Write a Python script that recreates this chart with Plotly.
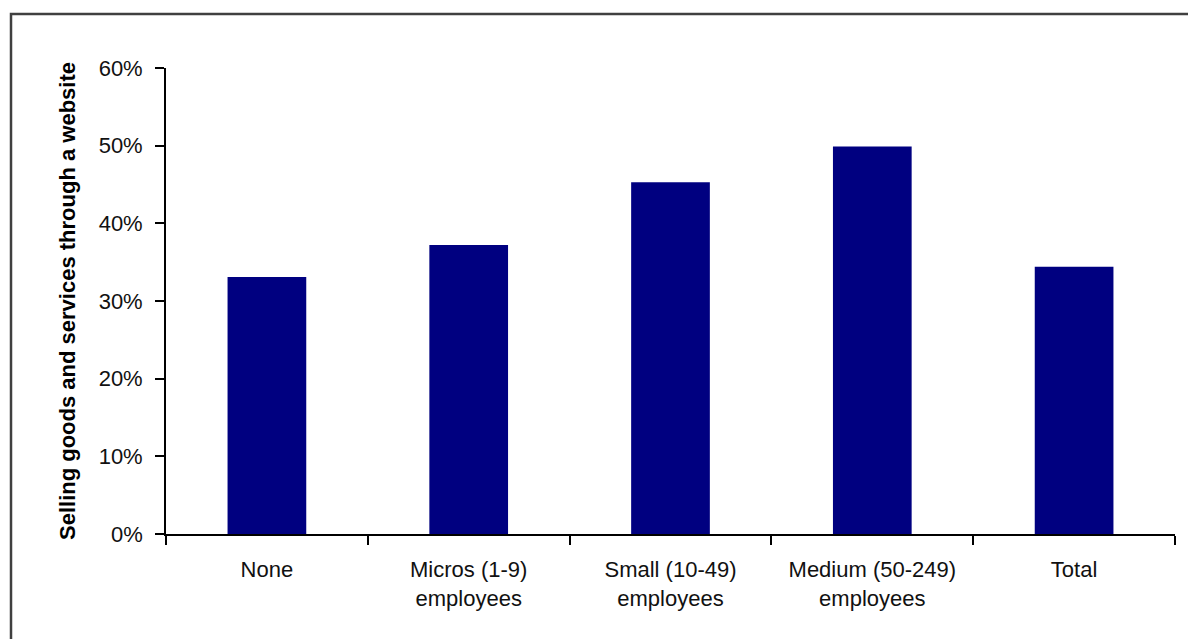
import plotly.graph_objects as go

# Share of firms selling goods and services through a website, by firm size
categories = [
    "None",
    "Micros (1-9)<br>employees",
    "Small (10-49)<br>employees",
    "Medium (50-249)<br>employees",
    "Total",
]
share_selling_online = [0.331, 0.372, 0.453, 0.499, 0.344]

y_tick_values = [0.0, 0.1, 0.2, 0.3, 0.4, 0.5, 0.6]
y_tick_labels = ["0%", "10%", "20%", "30%", "40%", "50%", "60%"]
y_title = "Selling goods and services through a website"

W, H = 1188, 639
ML, MR, MT, MB = 166, 13, 68, 105
plot_w = W - ML - MR
plot_h = H - MT - MB

FONT = "Liberation Sans, Arial, sans-serif"

fig = go.Figure(
    go.Bar(
        x=categories,
        y=share_selling_online,
        marker=dict(color="#000080", line=dict(width=0)),
        width=0.39,
        hoverinfo="skip",
    )
)

fig.update_layout(
    width=W,
    height=H,
    margin=dict(l=ML, r=MR, t=MT, b=MB, pad=0),
    paper_bgcolor="white",
    plot_bgcolor="white",
    showlegend=False,
    font=dict(family=FONT, size=22, color="#000000"),
)

fig.update_xaxes(
    type="category",
    range=[-0.5, len(categories) - 0.5],
    showline=True,
    linecolor="#000000",
    linewidth=1.8,
    ticks="outside",
    tickson="boundaries",
    ticklen=9,
    tickwidth=1.8,
    tickcolor="#000000",
    showgrid=False,
    zeroline=False,
    ticklabelstandoff=15,
    tickfont=dict(family=FONT, size=22, color="#111111"),
)

fig.update_yaxes(
    range=[0, 0.6],
    tickvals=y_tick_values,
    ticktext=y_tick_labels,
    showline=True,
    linecolor="#000000",
    linewidth=1.8,
    ticks="outside",
    ticklen=9,
    tickwidth=1.8,
    tickcolor="#000000",
    showgrid=False,
    zeroline=False,
    ticklabelstandoff=8,
    tickfont=dict(family=FONT, size=22, color="#111111"),
)

# Rotated axis title placed to the left of the tick labels
fig.add_annotation(
    text=f"<b>{y_title}</b>",
    textangle=-90,
    xref="paper",
    yref="paper",
    x=(67 - ML) / plot_w,
    y=0.5,
    xanchor="center",
    yanchor="middle",
    showarrow=False,
    font=dict(family=FONT, size=22, color="#000000"),
)

# Chart-area frame (open to the right and bottom edges of the page)
fig.add_shape(
    type="rect",
    xref="paper",
    yref="paper",
    x0=(11 - ML) / plot_w,
    x1=(W + 20 - ML) / plot_w,
    y0=-(H + 20 - (H - MB)) / plot_h,
    y1=(H - MB - 14) / plot_h,
    line=dict(color="#404040", width=2.5),
    fillcolor="rgba(0,0,0,0)",
    layer="below",
)

fig.write_html("out.html")
